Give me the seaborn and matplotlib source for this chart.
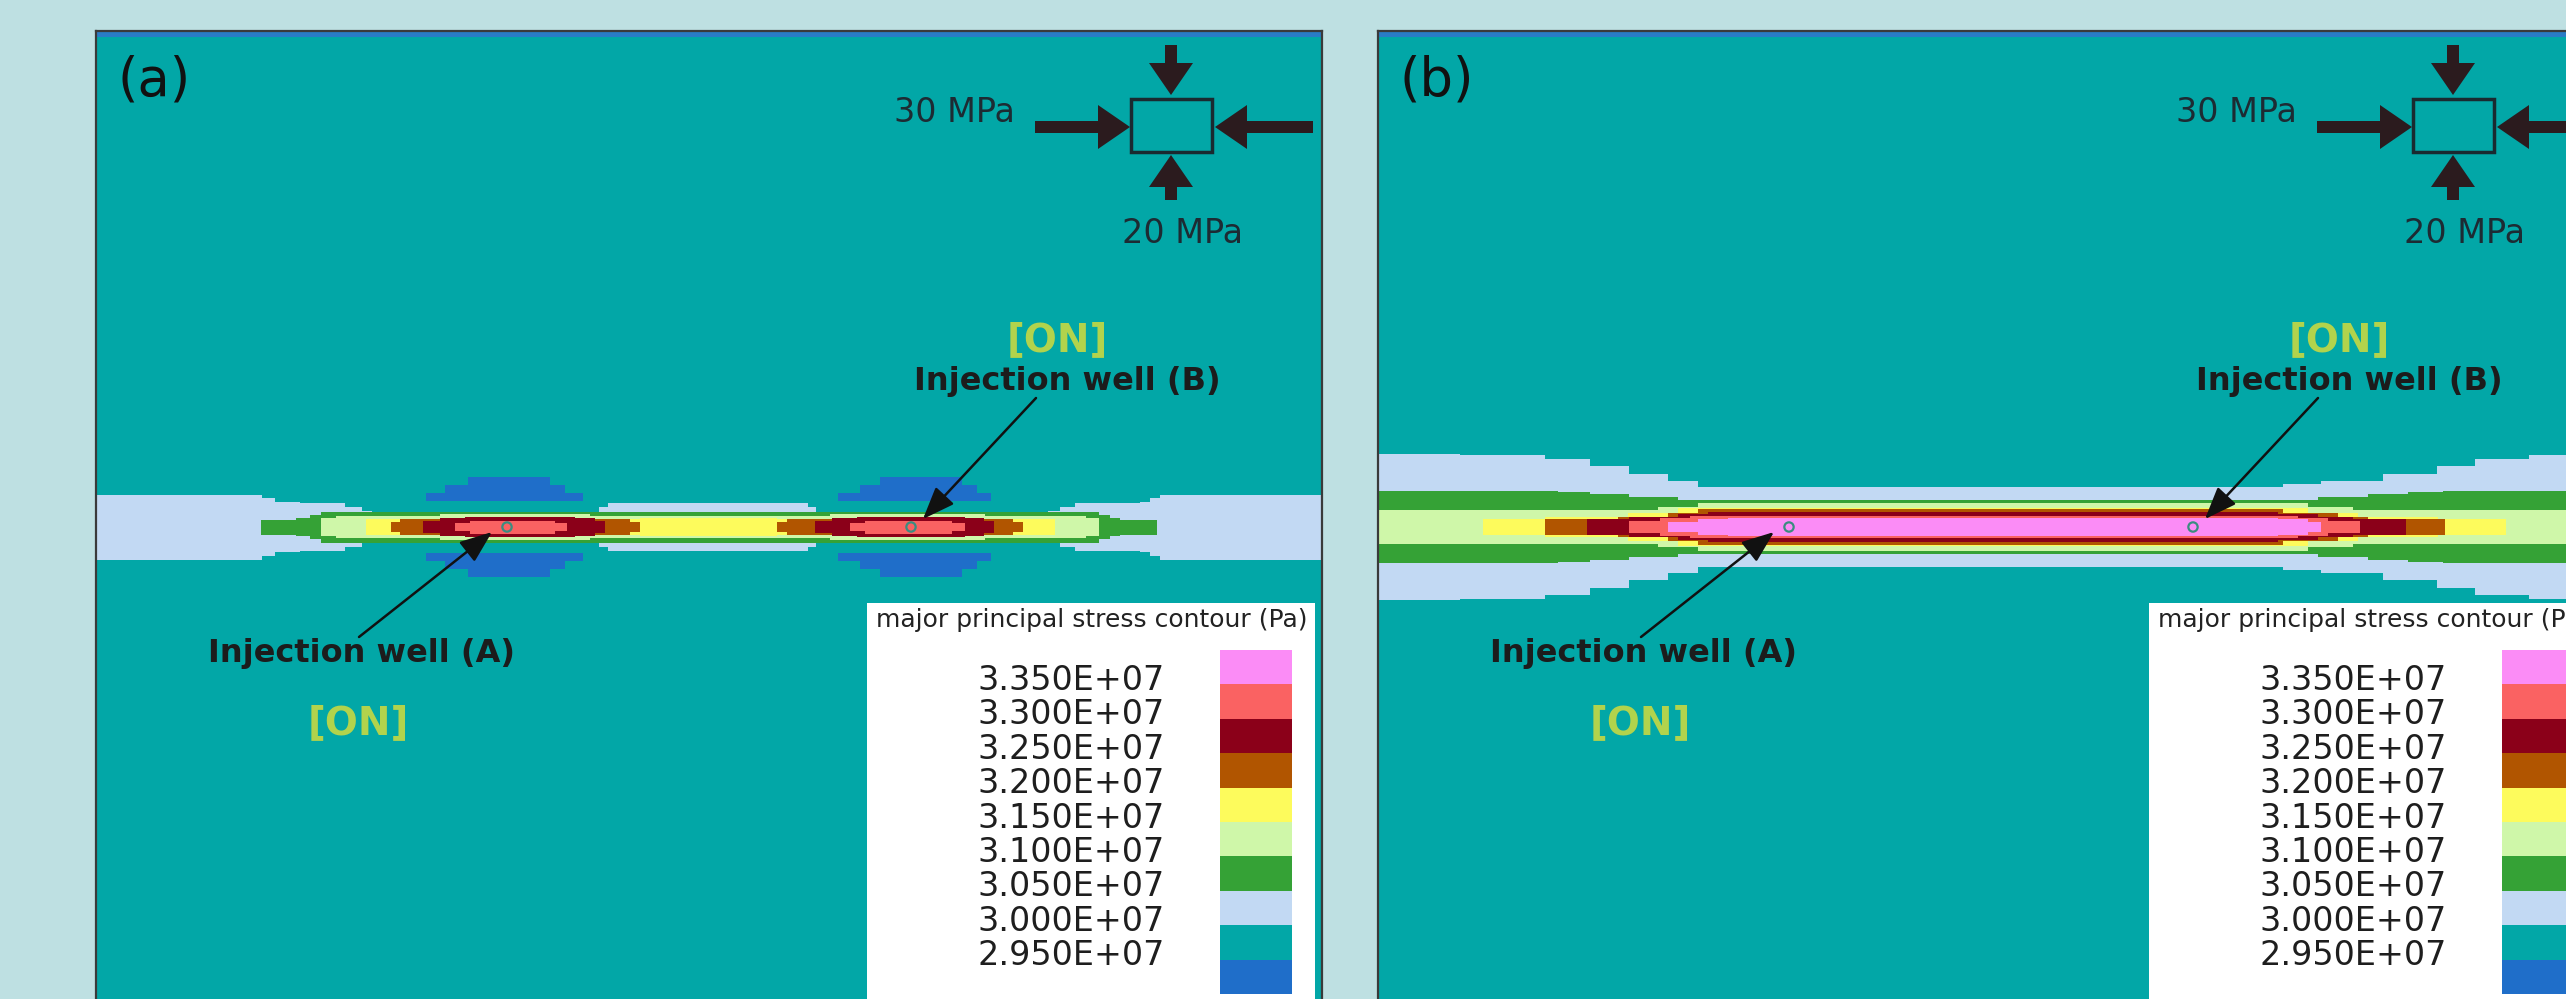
import numpy as np
import matplotlib
matplotlib.use("Agg")
import matplotlib.pyplot as plt
from matplotlib.colors import ListedColormap
from matplotlib.patches import Rectangle
import seaborn as sns

# Contour legend, top to bottom (Pa)
level_labels = ["3.350E+07", "3.300E+07", "3.250E+07", "3.200E+07", "3.150E+07",
                "3.100E+07", "3.050E+07", "3.000E+07", "2.950E+07"]
level_colors = ["#fb8cf6", "#fa6262", "#8b0019", "#b15500", "#fdfb5c",
                "#cff7a9", "#35a236", "#c2d9f3", "#02a7a7", "#1f6ec9"]
band_index = {"pink": 0, "salmon": 1, "darkred": 2, "brown": 3, "yellow": 4,
              "lgreen": 5, "green": 6, "lblue": 7, "teal": 8, "blue": 9}

# Band outlines: x position along the fracture line
# and half thickness of each band (model grid units), drawn outer -> inner
bands_a = {
    "lblue": ([0, 166, 179, 204, 249, 266, 276, 503, 512, 712, 720, 952, 964, 979, 1044, 1054, 1064, 1226],
              [32.5, 29, 25, 24, 20, 16, 0, 20, 24, 20, 0, 16, 20, 24, 25, 29, 32.5, 32.5]),
    "green": ([165, 200, 214, 225, 1003, 1014, 1024, 1061],
              [7.5, 9, 12, 15.5, 12, 9, 7.5, 0]),
    "lgreen": ([225, 240, 344, 494, 734, 889, 990, 1003],
               [9, 11, 13, 11, 13, 11, 9, 0]),
    "yellow": ([270, 544, 681, 959],
               [8, 9, 8, 0]),
    "brown": ([295, 304, 534, 544, 681, 691, 917, 927],
              [5, 8, 5, 0, 5, 8, 5, 0]),
    "darkred": ([327, 344, 369, 479, 499, 509, 719, 736, 761, 869, 888, 898],
                [6, 9, 10, 9, 6, 0, 6, 9, 10, 9, 6, 0]),
    "salmon": ([359, 374, 459, 471, 754, 769, 856, 869],
               [4, 6.5, 4, 0, 4, 6.5, 4, 0]),
}
# low-stress lobes above / below each well in (a)
lobe_x_a = [330, 349, 372, 454, 469, 487, 742, 764, 784, 866, 881, 895]
lobe_outer_a = [34, 42, 50, 42, 34, 0, 34, 42, 50, 42, 34, 0]
lobe_gap = 26

bands_b = {
    "lblue": ([0, 82, 167, 212, 251, 290, 320, 905, 943, 1005, 1059, 1097, 1151, 1226],
              [73, 72, 68, 61, 53, 46, 40, 43, 46, 53, 61, 68, 72, 72]),
    "green": ([0, 180, 212, 251, 300, 940, 990, 1030, 1065, 1226],
              [36, 35, 33, 30, 27, 30, 33, 35, 36, 36]),
    "lgreen": ([0, 280, 320, 930, 975, 1226],
               [17, 20, 24, 20, 17, 17]),
    "yellow": ([105, 167, 250, 300, 930, 980, 1060, 1128],
               [8, 10, 14, 19, 14, 10, 8, 0]),
    "brown": ([167, 240, 290, 320, 905, 960, 990, 1067],
              [8, 10, 14, 18, 14, 10, 8, 0]),
    "darkred": ([209, 251, 300, 330, 900, 940, 975, 1028],
                [8, 10, 13, 15, 13, 10, 8, 0]),
    "salmon": ([251, 282, 312, 920, 950, 982],
               [6, 9, 11, 9, 6, 0]),
    "pink": ([290, 320, 350, 900, 930, 943],
             [5, 8, 9, 8, 5, 0]),
}

well_x = [411, 815]
band_center = 496

PANEL_W, PANEL_H = 1226, 999
FIG_W, FIG_H = 2566, 999
BG = "#bee0e2"
DARK = "#1c1c1c"
ON_COLOR = "#b2d34c"

sns.set_theme(style="white")
plt.rcParams["font.family"] = ["DejaVu Sans"]

fig = plt.figure(figsize=(FIG_W / 100, FIG_H / 100), dpi=100)
fig.patch.set_facecolor(BG)


def draw_band(ax, xs, hs, color):
    xs = np.asarray(xs, float)
    hs = np.asarray(hs, float)
    ax.fill_between(xs, band_center - hs, band_center + hs, step="post",
                    color=color, linewidth=0, zorder=2)


def draw_lobes(ax, xs, outer):
    xs = np.asarray(xs, float)
    outer = np.asarray(outer, float)
    inner = np.minimum(outer, lobe_gap)
    for s in (-1, 1):
        ax.fill_between(xs, band_center + s * inner, band_center + s * outer,
                        step="post", color=level_colors[band_index["blue"]],
                        linewidth=0, zorder=2)


def draw_panel(ax, tag, bands, lobes=None):
    ax.set_facecolor(level_colors[band_index["teal"]])
    ax.set_xlim(0, PANEL_W)
    ax.set_ylim(PANEL_H, 0)
    ax.set_xticks([])
    ax.set_yticks([])
    for sp in ax.spines.values():
        sp.set_color("#3a3a3a")
        sp.set_linewidth(1.6)

    # thin low-stress strip along the top boundary
    ax.fill_between([0, PANEL_W], 0, 6, color="#2a7cc6", linewidth=0, zorder=2)

    if lobes is not None:
        draw_lobes(ax, *lobes)
    for name in ["lblue", "green", "lgreen", "yellow", "brown", "darkred", "salmon", "pink"]:
        if name in bands:
            xs, hs = bands[name]
            draw_band(ax, xs, hs, level_colors[band_index[name]])

    ax.scatter(well_x, [band_center] * len(well_x), s=45, facecolors="none",
               edgecolors="#3a8c80", linewidths=1.6, zorder=4)

    ax.text(22, 49, tag, fontsize=38, color="#111111", ha="left", va="center", zorder=6)

    # boundary stress sketch
    arrow_kw = dict(width=12, head_width=44, head_length=32, length_includes_head=True,
                    color="#2b1b1e", linewidth=0, zorder=6)
    ax.arrow(1075, 14, 0, 50, **arrow_kw)
    ax.arrow(1075, 169, 0, -45, **arrow_kw)
    ax.arrow(939, 96, 95, 0, **arrow_kw)
    ax.arrow(1217, 96, -98, 0, **arrow_kw)
    ax.add_patch(Rectangle((1035, 68), 81, 53, facecolor="none", edgecolor="#1a2a30",
                           linewidth=2.5, zorder=6))
    ax.text(858, 81, "30 MPa", fontsize=24, color="#1d2b33", ha="center", va="center", zorder=6)
    ax.text(1086, 202, "20 MPa", fontsize=24, color="#1d2b33", ha="center", va="center", zorder=6)

    # injection wells
    ax.text(961, 309, "[ON]", fontsize=28, fontweight="bold", color=ON_COLOR,
            ha="center", va="center", zorder=6)
    ax.text(971, 350, "Injection well (B)", fontsize=23, fontweight="bold", color=DARK,
            ha="center", va="center", zorder=6)
    ax.text(265, 622, "Injection well (A)", fontsize=23, fontweight="bold", color=DARK,
            ha="center", va="center", zorder=6)
    ax.text(262, 692, "[ON]", fontsize=28, fontweight="bold", color=ON_COLOR,
            ha="center", va="center", zorder=6)
    head = dict(arrowstyle="-|>,head_length=0.9,head_width=0.35", lw=1.8, color="#111111",
                shrinkA=0, shrinkB=0, mutation_scale=22)
    ax.annotate("", xy=(well_x[1] + 12, 488), xytext=(940, 367), arrowprops=head, zorder=6)
    ax.annotate("", xy=(well_x[0] - 15, 501), xytext=(263, 606), arrowprops=head, zorder=6)

    # legend box
    ax.add_patch(Rectangle((771, 572), 448, 500, facecolor="white", edgecolor="none", zorder=7))
    ax.text(996, 589, "major principal stress contour (Pa)", fontsize=18, color="#222222",
            ha="center", va="center", zorder=8)
    cell = 34.4
    top = 619
    for k, lab in enumerate(level_labels):
        ax.text(1069, top + cell * (k + 1) - 4, lab, fontsize=24, color="#1e1e1e",
                ha="right", va="center", zorder=8)
    iax = ax.inset_axes([1124 / PANEL_W, 1 - (top + cell * 10) / PANEL_H,
                         72 / PANEL_W, cell * 10 / PANEL_H], zorder=9)
    sns.heatmap(np.arange(len(level_colors)).reshape(-1, 1), ax=iax,
                cmap=ListedColormap(level_colors), vmin=-0.5, vmax=len(level_colors) - 0.5,
                cbar=False, xticklabels=False, yticklabels=False)
    iax.axis("off")


panel_bottom = 1 - (31 + PANEL_H) / FIG_H
ax_a = fig.add_axes([96 / FIG_W, panel_bottom, PANEL_W / FIG_W, PANEL_H / FIG_H])
ax_b = fig.add_axes([1378 / FIG_W, panel_bottom, PANEL_W / FIG_W, PANEL_H / FIG_H])

draw_panel(ax_a, "(a)", bands_a, (lobe_x_a, lobe_outer_a))
draw_panel(ax_b, "(b)", bands_b)

fig.savefig("out.png", dpi=100, facecolor=BG)
